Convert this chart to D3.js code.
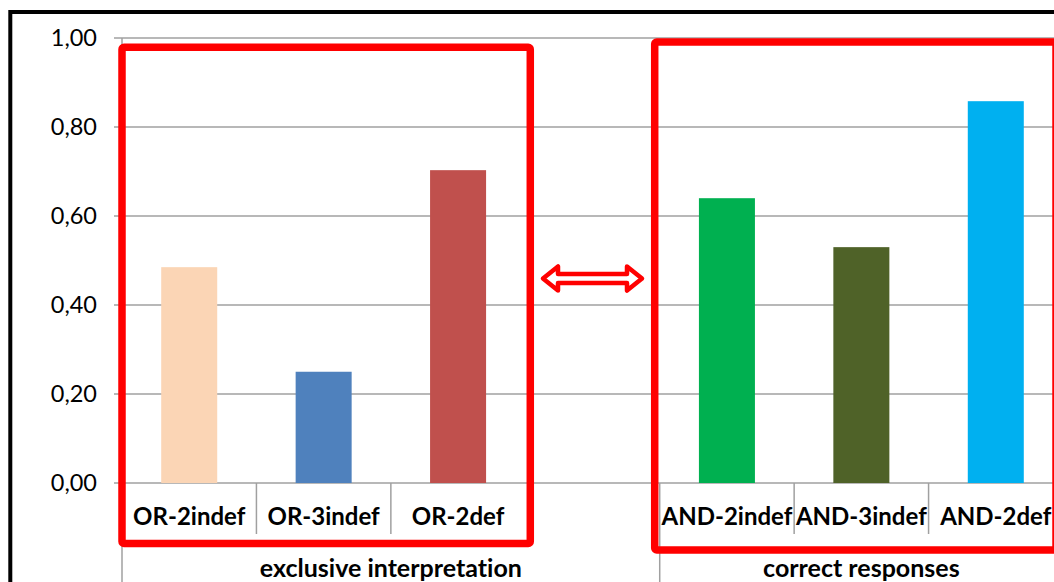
<!DOCTYPE html>
<html><head><meta charset="utf-8">
<script src="https://cdn.jsdelivr.net/npm/d3@7"></script>
<style>body{margin:0;background:#fff}svg{display:block}text{font-variant-ligatures:none;font-feature-settings:"liga" 0,"dlig" 0}</style>
</head><body>
<svg id="c" width="1054" height="582"></svg>
<script>
const categories = ["OR-2indef","OR-3indef","OR-2def","","AND-2indef","AND-3indef","AND-2def"];
const values = [0.485, 0.25, 0.703, null, 0.64, 0.53, 0.858];
const barColors = ["#FBD5B5","#4F81BD","#C0504D",null,"#00B050","#4F6228","#00B0F0"];
const groups = ["exclusive interpretation","correct responses"];
const groupSizes = [4, 3];
const yTicks = [0,0.2,0.4,0.6,0.8,1.0];

const svg = d3.select("#c");
const x = d3.scaleBand().domain(categories).range([122, 1063]).padding(0);
const y = d3.scaleLinear().domain([0,1]).range([483, 38]);
const fmt = v => d3.format(".2f")(v).replace(".", ",");
const FONT = "Lato, 'Open Sans', sans-serif";

// outer black frame (extends off-canvas right/bottom)
svg.append("rect").attr("x",10.3).attr("y",12).attr("width",1100).attr("height",700)
  .attr("fill","none").attr("stroke","#000").attr("stroke-width",4);

// gridlines
svg.append("g").selectAll("line").data(yTicks).join("line")
  .attr("x1",114).attr("x2",1063).attr("y1",d=>y(d)).attr("y2",d=>y(d))
  .attr("stroke","#a0a0a0").attr("stroke-width",1.5);
// y axis line
svg.append("line").attr("x1",122).attr("x2",122).attr("y1",y(1)).attr("y2",y(0))
  .attr("stroke","#a0a0a0").attr("stroke-width",1.5);
// tick labels
svg.append("g").selectAll("text").data(yTicks).join("text")
  .attr("x",97).attr("y",d=>y(d)).attr("dy","0.36em").attr("text-anchor","end")
  .attr("font-family",FONT).attr("font-size",23.5).attr("fill","#000").text(fmt);

// bars
const bw = x.bandwidth()/2.4;
svg.append("g").selectAll("rect").data(categories.map((c,i)=>({c,v:values[i],col:barColors[i]})).filter(d=>d.v!=null))
  .join("rect")
  .attr("x",d=>x(d.c)+x.bandwidth()/2-bw/2).attr("width",bw)
  .attr("y",d=>y(d.v)).attr("height",d=>y(0)-y(d.v)).attr("fill",d=>d.col);

// category separators (short) and group separators (long)
const seps = [];
let idx = 0;
const groupStarts = [];
groupSizes.forEach((n,g)=>{ groupStarts.push(idx); for(let k=0;k<n;k++){ if(k>0 && categories[idx]!=="" ) seps.push(x(categories[idx])); idx++; } });
svg.append("g").selectAll("line").data(seps).join("line")
  .attr("x1",d=>d).attr("x2",d=>d).attr("y1",y(0)).attr("y2",534)
  .attr("stroke","#a0a0a0").attr("stroke-width",1.5);
const gBounds = groupStarts.map((s,g)=>[x(categories[s]), x(categories[s])+groupSizes[g]*x.bandwidth()]);
svg.append("g").selectAll("line").data(gBounds).join("line")
  .attr("x1",d=>d[0]).attr("x2",d=>d[0]).attr("y1",y(0)).attr("y2",590)
  .attr("stroke","#a0a0a0").attr("stroke-width",1.5);

// category labels
svg.append("g").selectAll("text").data(categories.filter(c=>c!=="")).join("text")
  .attr("x",d=>x(d)+x.bandwidth()/2).attr("y",525).attr("text-anchor","middle")
  .attr("font-family",FONT).attr("font-weight","bold").attr("font-size",24).attr("fill","#000").text(d=>d);
// group labels
svg.append("g").selectAll("text").data(groups).join("text")
  .attr("x",(d,i)=>(gBounds[i][0]+gBounds[i][1])/2).attr("y",577).attr("text-anchor","middle")
  .attr("font-family",FONT).attr("font-weight","bold").attr("font-size",25).attr("fill","#000").text(d=>d);

// red annotation boxes
const boxes = [
  {x0:x("OR-2indef"), x1:x("OR-2def")+x.bandwidth()+5, y0:y(0.979), y1:543.5},
  {x0:x("AND-2indef")-5, x1:1056, y0:y(0.991), y1:550}
];
svg.append("g").selectAll("rect").data(boxes).join("rect")
  .attr("x",d=>d.x0).attr("y",d=>d.y0).attr("width",d=>d.x1-d.x0).attr("height",d=>d.y1-d.y0)
  .attr("rx",2).attr("fill","none").attr("stroke","#FF0000").attr("stroke-width",7.5);

// double arrow
const ay = 278.5;
const arrow = [[543,ay],[558,ay-12],[558,ay-4.5],[627,ay-4.5],[627,ay-12],[642,ay],[627,ay+12],[627,ay+4.5],[558,ay+4.5],[558,ay+12]];
svg.append("path").attr("d","M"+arrow.map(p=>p.join(",")).join("L")+"Z")
  .attr("fill","#fff").attr("stroke","#FF0000").attr("stroke-width",4.5).attr("stroke-linejoin","round");
</script>
</body></html>
